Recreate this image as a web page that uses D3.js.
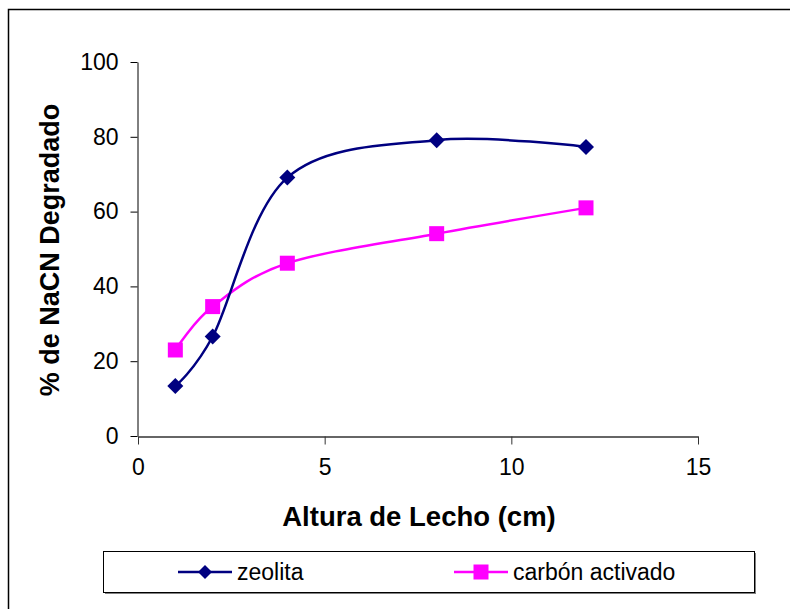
<!DOCTYPE html>
<html>
<head>
<meta charset="utf-8">
<script src="https://cdn.jsdelivr.net/npm/d3@7"></script>
<style>
  body { margin: 0; background: #fff; }
  svg { display: block; font-family: "Liberation Sans", Arial, sans-serif; }
</style>
</head>
<body>
<div id="chart"></div>
<script>
// data
const alturas = [1, 2, 4, 8, 12];
const zeolita = [13.4, 26.6, 69.1, 79.1, 77.3];
const carbon = [23.0, 34.6, 46.2, 54.1, 61.0];
const seriesNames = ['zeolita', 'carbón activado'];
const xTicks = [0, 5, 10, 15];
const yTicks = [0, 20, 40, 60, 80, 100];

const W = 790;
const H = 609;
const plot = { left: 138, right: 698, top: 62, bottom: 436 };

const svg = d3.select('#chart')
  .append('svg')
  .attr('width', W)
  .attr('height', H);

// outer frame (runs off the right and bottom edge)
svg.append('rect')
  .attr('x', 8.5)
  .attr('y', 9.5)
  .attr('width', 900)
  .attr('height', 800)
  .attr('fill', 'none')
  .attr('stroke', '#000')
  .attr('stroke-width', 1.5);

const x = d3.scaleLinear().domain([0, 15]).range([plot.left, plot.right]);
const y = d3.scaleLinear().domain([0, 100]).range([plot.bottom, plot.top]);

// x axis
const gx = svg.append('g')
  .attr('transform', `translate(0,${plot.bottom + 0.5})`)
  .call(d3.axisBottom(x).tickValues(xTicks).tickSize(8).tickPadding(14).tickSizeOuter(0));
gx.select('.domain').attr('stroke', '#333').attr('stroke-width', 1.5);
gx.selectAll('.tick line').attr('stroke', '#333');
gx.selectAll('text')
  .attr('font-size', 23)
  .attr('fill', '#000')
  .attr('font-family', '"Liberation Sans", Arial, sans-serif');

// y axis
const gy = svg.append('g')
  .attr('transform', `translate(${plot.left - 0.5},0)`)
  .call(d3.axisLeft(y).tickValues(yTicks).tickSize(7).tickPadding(12).tickSizeOuter(0));
gy.select('.domain').attr('stroke', '#000');
gy.selectAll('.tick line').attr('stroke', '#000');
gy.selectAll('text')
  .attr('font-size', 23)
  .attr('fill', '#000')
  .attr('font-family', '"Liberation Sans", Arial, sans-serif');

// axis titles
svg.append('text')
  .attr('x', 419)
  .attr('y', 526)
  .attr('text-anchor', 'middle')
  .attr('font-size', 27.5)
  .attr('font-weight', 'bold')
  .text('Altura de Lecho (cm)');

svg.append('text')
  .attr('transform', 'translate(59,250) rotate(-90)')
  .attr('text-anchor', 'middle')
  .attr('font-size', 27)
  .attr('font-weight', 'bold')
  .text('% de NaCN Degradado');

const line = d3.line()
  .x((d) => x(d[0]))
  .y((d) => y(d[1]))
  .curve(d3.curveCatmullRom.alpha(0));

const diamond = (s) => `M0,${-s}L${s},0L0,${s}L${-s},0Z`;

// carbón activado
const carbonPts = alturas.map((a, i) => [a, carbon[i]]);
svg.append('path')
  .datum(carbonPts)
  .attr('d', line)
  .attr('fill', 'none')
  .attr('stroke', '#ff00ff')
  .attr('stroke-width', 2.5);

svg.selectAll('.sq')
  .data(carbonPts)
  .enter()
  .append('rect')
  .attr('class', 'sq')
  .attr('x', (d) => x(d[0]) - 7.5)
  .attr('y', (d) => y(d[1]) - 7.5)
  .attr('width', 15)
  .attr('height', 15)
  .attr('fill', '#ff00ff');

// zeolita
const zeoPts = alturas.map((a, i) => [a, zeolita[i]]);
svg.append('path')
  .datum(zeoPts)
  .attr('d', line)
  .attr('fill', 'none')
  .attr('stroke', '#000080')
  .attr('stroke-width', 2.5);

svg.selectAll('.dm')
  .data(zeoPts)
  .enter()
  .append('path')
  .attr('class', 'dm')
  .attr('transform', (d) => `translate(${x(d[0])},${y(d[1])})`)
  .attr('d', diamond(8))
  .attr('fill', '#000080');

// legend
const lg = { x: 103, y: 551, w: 651, h: 41 };
svg.append('rect')
  .attr('x', lg.x + 2)
  .attr('y', lg.y + 2)
  .attr('width', lg.w)
  .attr('height', lg.h)
  .attr('fill', '#808080');
svg.append('rect')
  .attr('x', lg.x + 0.5)
  .attr('y', lg.y + 0.5)
  .attr('width', lg.w)
  .attr('height', lg.h)
  .attr('fill', '#fff')
  .attr('stroke', '#000')
  .attr('stroke-width', 1);

const legendItems = [
  { name: seriesNames[0], color: '#000080', x0: 178, shape: 'diamond' },
  { name: seriesNames[1], color: '#ff00ff', x0: 454, shape: 'square' },
];
const ly = 572;
legendItems.forEach((it) => {
  const g = svg.append('g');
  g.append('line')
    .attr('x1', it.x0)
    .attr('x2', it.x0 + 54)
    .attr('y1', ly)
    .attr('y2', ly)
    .attr('stroke', it.color)
    .attr('stroke-width', 2.5);
  const cx = it.x0 + 27;
  if (it.shape === 'diamond') {
    g.append('path')
      .attr('transform', `translate(${cx},${ly})`)
      .attr('d', diamond(7))
      .attr('fill', it.color);
  } else {
    g.append('rect')
      .attr('x', cx - 7.5)
      .attr('y', ly - 7.5)
      .attr('width', 15)
      .attr('height', 15)
      .attr('fill', it.color);
  }
  g.append('text')
    .attr('x', it.x0 + 59)
    .attr('y', ly + 8)
    .attr('font-size', 23)
    .text(it.name);
});
</script>
</body>
</html>
